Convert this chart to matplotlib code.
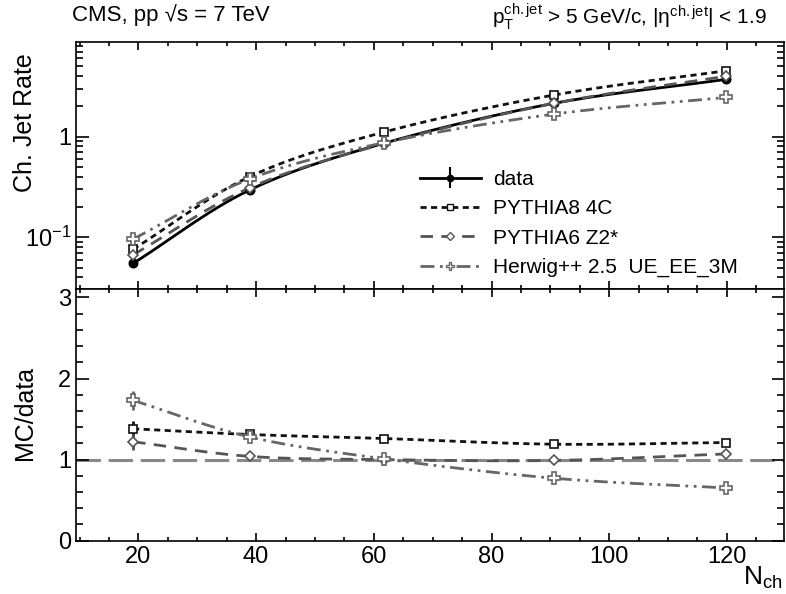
import numpy as np
import matplotlib
matplotlib.use("Agg")
import matplotlib.pyplot as plt
from matplotlib.ticker import FixedLocator, MultipleLocator, NullFormatter

plt.rcParams['font.family'] = ['Liberation Sans', 'DejaVu Sans']
plt.rcParams['mathtext.fontset'] = 'custom'
plt.rcParams['mathtext.rm'] = 'Liberation Sans'
plt.rcParams['mathtext.it'] = 'Liberation Sans:italic'

# mean N_ch of each bin
nch = [19.1, 38.9, 61.7, 90.7, 119.9]

# charged jet rate (top panel)
data = [0.055, 0.295, 0.86, 2.15, 3.72]
data_err = [0.003, 0.008, 0.02, 0.05, 0.09]
py8 = [0.076, 0.40, 1.11, 2.60, 4.53]
py6 = [0.067, 0.31, 0.85, 2.15, 4.00]
hw = [0.096, 0.38, 0.87, 1.68, 2.46]

# MC / data (bottom panel)
py8_ratio = [1.38, 1.31, 1.26, 1.19, 1.21]
py8_ratio_err = [0.10, 0.04, 0.03, 0.03, 0.03]
py6_ratio = [1.22, 1.04, 1.00, 0.99, 1.07]
py6_ratio_err = [0.10, 0.03, 0.03, 0.02, 0.02]
hw_ratio = [1.73, 1.28, 1.01, 0.77, 0.65]
hw_ratio_err = [0.12, 0.04, 0.04, 0.04, 0.02]

labels = ["data", "PYTHIA8 4C", "PYTHIA6 Z2*", "Herwig++ 2.5  UE_EE_3M"]


def smooth(x, y, logy=False, n=30):
    # catmull-rom curve through the points (like ROOT's "C" option)
    x = np.asarray(x, float)
    y = np.log10(y) if logy else np.asarray(y, float)
    px = np.concatenate(([2 * x[0] - x[1]], x, [2 * x[-1] - x[-2]]))
    py = np.concatenate(([2 * y[0] - y[1]], y, [2 * y[-1] - y[-2]]))
    xs, ys = [], []
    t = np.linspace(0, 1, n)
    for i in range(1, len(px) - 2):
        for p, out in ((px, xs), (py, ys)):
            p0, p1, p2, p3 = p[i - 1], p[i], p[i + 1], p[i + 2]
            out.append(0.5 * ((2 * p1) + (-p0 + p2) * t
                              + (2 * p0 - 5 * p1 + 4 * p2 - p3) * t ** 2
                              + (-p0 + 3 * p1 - 3 * p2 + p3) * t ** 3))
    xs = np.concatenate(xs)
    ys = np.concatenate(ys)
    return xs, (10 ** ys if logy else ys)


styles = [
    dict(color="black", marker="o", mfc="black", ms=6, dashes=None),
    dict(color="#111111", marker="s", mfc="white", ms=6, dashes=(2.2, 1.6)),
    dict(color="#555555", marker="D", mfc="white", ms=5, dashes=(4.5, 3.0)),
    dict(color="#666666", marker="P", mfc="white", ms=8, dashes=(5, 2, 1, 2, 1, 2)),
]

fig = plt.figure(figsize=(7.86, 5.94), dpi=100)
L, R = 76 / 786, 784 / 786
y_top, y_mid, y_bot = 1 - 41.7 / 594, 1 - 289.3 / 594, 1 - 540.7 / 594
ax1 = fig.add_axes([L, y_mid, R - L, y_top - y_mid])
ax2 = fig.add_axes([L, y_bot, R - L, y_mid - y_bot], sharex=ax1)

# top panel
handles = []
for vals, err, st in zip([data, py8, py6, hw], [data_err, None, None, None], styles):
    xs, ys = smooth(nch, vals, logy=True)
    ln, = ax1.plot(xs, ys, color=st["color"], lw=2, ls="-", zorder=2)
    if st["dashes"] is not None:
        ln.set_dashes(st["dashes"])
    ax1.errorbar(nch, vals, yerr=err, fmt="none", ecolor=st["color"], elinewidth=1.5, zorder=3)
    ax1.plot(nch, vals, ls="none", marker=st["marker"], mfc=st["mfc"], mec=st["color"],
             ms=st["ms"], mew=1.2, zorder=4)
    h = ax1.errorbar([], [], yerr=[] if err is not None else None, color=st["color"], lw=2,
                     marker=st["marker"], mfc=st["mfc"], mec=st["color"],
                     ms=st["ms"] * 0.75, mew=1.0, elinewidth=1.5)
    if st["dashes"] is not None:
        h.lines[0].set_dashes(st["dashes"])
    handles.append(h)

ax1.set_yscale("log")
ax1.set_ylim(0.0304, 8.8)
ax1.set_xlim(9.4, 129.7)
ax1.yaxis.set_major_locator(FixedLocator([0.1, 1]))
ax1.set_yticklabels([r"$10^{-1}$", "1"])
ax1.yaxis.set_minor_locator(FixedLocator([k * 10.0 ** e for e in (-2, -1, 0) for k in range(2, 10)]))
ax1.yaxis.set_minor_formatter(NullFormatter())
ax1.tick_params(labelbottom=False)

leg = ax1.legend(handles, labels, loc="upper left", bbox_to_anchor=(0.486, 0.482),
                 frameon=False, fontsize=15, handlelength=2.9, handletextpad=0.6,
                 labelspacing=0.5, borderpad=0, borderaxespad=0)

# bottom panel
ax2.axhline(1.0, color="#888888", lw=2.2, dashes=(8, 2.5), zorder=1)
for vals, err, st in zip([py8_ratio, py6_ratio, hw_ratio],
                         [py8_ratio_err, py6_ratio_err, hw_ratio_err], styles[1:]):
    xs, ys = smooth(nch, vals)
    ln, = ax2.plot(xs, ys, color=st["color"], lw=2, zorder=2)
    ln.set_dashes(st["dashes"])
    ax2.errorbar(nch, vals, yerr=err, fmt="none", ecolor=st["color"], elinewidth=2, zorder=3)
    ax2.plot(nch, vals, ls="none", marker=st["marker"], mfc=st["mfc"], mec=st["color"],
             ms=st["ms"], mew=1.2, zorder=4)

ax2.set_ylim(0, 3.1)
ax2.yaxis.set_major_locator(MultipleLocator(1))
ax2.yaxis.set_minor_locator(MultipleLocator(0.2))
ax2.xaxis.set_major_locator(MultipleLocator(20))
ax2.xaxis.set_minor_locator(MultipleLocator(5))

for ax in (ax1, ax2):
    ax.tick_params(which="both", direction="in", top=True, right=True, labelsize=17)
    ax.tick_params(axis="x", which="major", length=6, width=1.2)
    ax.tick_params(axis="x", which="minor", length=3, width=1.2)
    ax.tick_params(axis="y", which="major", length=9, width=1.2)
    ax.tick_params(axis="y", which="minor", length=5, width=1.2)
    for s in ax.spines.values():
        s.set_linewidth(1.2)

fig.text(0.016, 1 - 53 / 594, "Ch. Jet Rate", rotation=90, ha="left", va="top", fontsize=18)
fig.text(0.016, 1 - 413 / 594, "MC/data", rotation=90, ha="left", va="center", fontsize=18)
fig.text(783 / 786, 1 - 578 / 594, r"N$_{\rm ch}$", ha="right", va="center", fontsize=19)
fig.text(72 / 786, 1 - 15 / 594, "CMS, pp \u221as = 7 TeV", ha="left", va="center", fontsize=16)
fig.text(767 / 786, 1 - 24 / 594,
         "p$_{\\rm T}^{\\rm ch.jet}$ > 5 GeV/c, |\u03b7$^{\\rm ch.jet}$| < 1.9",
         ha="right", va="baseline", fontsize=15)

fig.savefig("out.png", dpi=100)
